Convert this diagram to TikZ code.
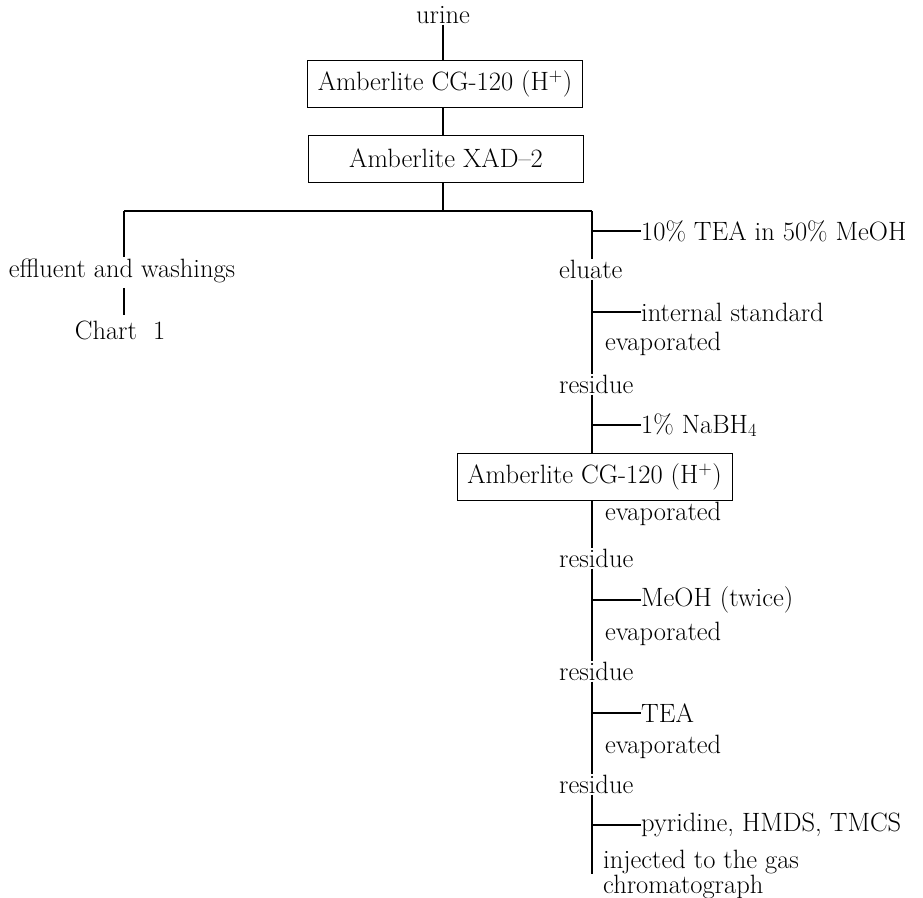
\documentclass[tikz,border=0pt]{standalone}
\usepackage{tikz}
\usetikzlibrary{positioning}

\begin{document}
\begin{tikzpicture}[
	x=1pt, y=-1pt,
	font=\fontsize{26.5}{25}\selectfont
]
\tikzset{
    resin/.style = {rectangle, draw=black, line width=0.8pt, align=center, minimum width=275pt, minimum height=47pt, inner sep=0pt},
    stage/.style = {inner sep=1pt, anchor=mid},
    stagel/.style = {inner sep=1pt, anchor=mid west},
    added/.style = {inner sep=0pt, anchor=west},
    note/.style = {inner sep=0pt, anchor=mid west},
    flow/.style = {-, line width=1.4pt},
}
\useasboundingbox (0,0) rectangle (923,897);
% main stem
\node[stage] at (443,21) (urine) {urine};
\node[resin] at (445,83.5) (cg) {Amberlite CG-120 (H\textsuperscript{+})};
\node[resin] at (446,158.5) (xad) {Amberlite XAD--2};
\coordinate (split) at (443,211);
\coordinate (left) at (124,211);
\coordinate (right) at (592,211);
%
\draw[flow] (urine.south -| split) -- (cg.north -| split);
\draw[flow] (cg.south -| split) -- (xad.north -| split);
\draw[flow] (xad.south -| split) -- (split);
\draw[flow] (left) -- (right);
% left branch
\node[stage] at (122,275) (eff) {effluent and washings};
\node[stage] at (120,337) (chart) {Chart\ \ 1};
\draw[flow] (left) -- (left |- eff.north);
\draw[flow] ([yshift=-4pt]eff.south -| left) -- ([yshift=4pt]chart.north -| left);
% right branch
\node[stagel] at (558,276) (elu) {eluate};
\node[stagel] at (558,391) (res1) {residue};
\node[resin] at (594.5,476.5) (cgb) {Amberlite CG-120 (H\textsuperscript{+})};
\node[stagel] at (558,565) (res2) {residue};
\node[stagel] at (558,678) (res3) {residue};
\node[stagel] at (558,791) (res4) {residue};
\coordinate (end) at (592,874);
%
\node[added] at (641,231) (tea) {10\% TEA in 50\% MeOH};
\node[added] at (641,312) (istd) {internal standard};
\node[note] at (605,348) (ev1) {evaporated};
\node[added] at (641,425) (nabh) {1\% NaBH\textsubscript{4}};
\node[note] at (605,518) (ev2) {evaporated};
\node[added] at (641,600) (meoh) {MeOH (twice)};
\node[note] at (605,638) (ev3) {evaporated};
\node[added] at (641,713) (teab) {TEA};
\node[note] at (605,751) (ev4) {evaporated};
\node[added] at (641,825) (pyr) {pyridine, HMDS, TMCS};
\node[inner sep=0pt, anchor=north west, align=left] at (603,850) (gc) {injected to the gas\\chromatograph};
%
\draw[flow] (right) -- (right |- elu.north);
\draw[flow] (right |- elu.south) -- (right |- res1.north);
\draw[flow] (right |- res1.south) -- (right |- cgb.north);
\draw[flow] (right |- cgb.south) -- (right |- res2.north);
\draw[flow] (right |- res2.south) -- (right |- res3.north);
\draw[flow] (right |- res3.south) -- (right |- res4.north);
\draw[flow] (right |- res4.south) -- (end);
%
\draw[flow] (tea.west -| right) -- (tea.west);
\draw[flow] (istd.west -| right) -- (istd.west);
\draw[flow] (nabh.west -| right) -- (nabh.west);
\draw[flow] (meoh.west -| right) -- (meoh.west);
\draw[flow] (teab.west -| right) -- (teab.west);
\draw[flow] (pyr.west -| right) -- (pyr.west);
\end{tikzpicture}
\end{document}
